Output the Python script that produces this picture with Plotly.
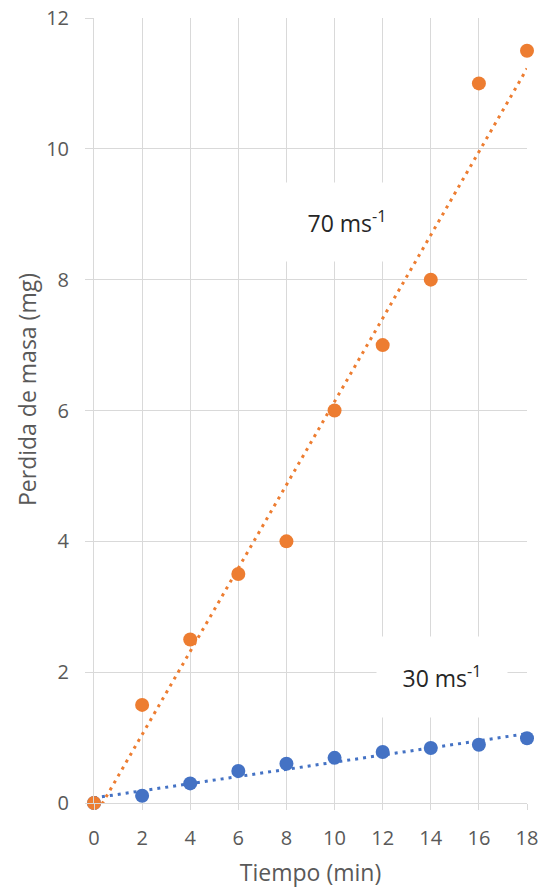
import numpy as np
import plotly.graph_objects as go

tiempo = [0, 2, 4, 6, 8, 10, 12, 14, 16, 18]
perdida_70 = [0, 1.5, 2.5, 3.5, 4.0, 6.0, 7.0, 8.0, 11.0, 11.5]
perdida_30 = [0, 0.11, 0.30, 0.49, 0.60, 0.69, 0.78, 0.84, 0.89, 0.99]
x_ticks = [0, 2, 4, 6, 8, 10, 12, 14, 16, 18]
y_ticks = [0, 2, 4, 6, 8, 10, 12]

ORANGE = "#ED7D31"
BLUE = "#4472C4"
GRID = "#d9d9d9"
TXT = "#595959"
FONT = "Open Sans"

def trend(x, y):
    x = np.asarray(x, float); y = np.asarray(y, float)
    m, b = np.polyfit(x, y, 1)
    xs = np.array([x.min(), x.max()])
    return xs, m * xs + b

fig = go.Figure()
for ys, col in [(perdida_70, ORANGE), (perdida_30, BLUE)]:
    tx, ty = trend(tiempo, ys)
    fig.add_trace(go.Scatter(x=tx, y=ty, mode="lines",
                             line=dict(color=col, width=3, dash="3px,5px"),
                             showlegend=False, hoverinfo="skip"))
for ys, col in [(perdida_30, BLUE), (perdida_70, ORANGE)]:
    fig.add_trace(go.Scatter(x=tiempo, y=ys, mode="markers",
                             marker=dict(color=col, size=14),
                             cliponaxis=False, showlegend=False))

fig.add_annotation(x=10.5, y=8.88, xref="x", yref="y", text="70 ms<sup>-1</sup>",
                   showarrow=False, bgcolor="white", width=130, height=78,
                   borderpad=0, font=dict(family=FONT, size=23, color="#262626"))
fig.add_annotation(x=14.46, y=1.93, xref="x", yref="y", text="30 ms<sup>-1</sup>",
                   showarrow=False, bgcolor="white", width=130, height=80,
                   borderpad=0, font=dict(family=FONT, size=23, color="#262626"))
# y axis title
fig.add_annotation(x=(27 - 94) / 433, y=(803 - 390) / 785, xref="paper", yref="paper",
                   xanchor="center", yanchor="middle",
                   text="Perdida de masa (mg)", textangle=-90, showarrow=False,
                   font=dict(family=FONT, size=23, color=TXT))

fig.update_layout(
    width=541, height=888,
    margin=dict(l=94, r=14, t=18, b=85),
    paper_bgcolor="white", plot_bgcolor="white",
    font=dict(family=FONT, color=TXT, size=17),
)
fig.update_xaxes(range=[0, 18], tickvals=x_ticks, showgrid=True, gridcolor=GRID,
                 gridwidth=1, zeroline=False, showline=True, linecolor=GRID, linewidth=1,
                 ticks="outside", ticklen=6, tickcolor=GRID, automargin=False,
                 tickfont=dict(size=20, color=TXT), ticklabelstandoff=11,
                 title=dict(text="Tiempo (min)", font=dict(size=23, color=TXT), standoff=18))
fig.update_yaxes(range=[0, 12], tickvals=y_ticks, showgrid=True, gridcolor=GRID,
                 gridwidth=1, zeroline=False, showline=True, linecolor=GRID, linewidth=1,
                 ticks="outside", ticklen=8, tickcolor=GRID, ticklabelstandoff=12,
                 automargin=False, tickfont=dict(size=20, color=TXT))

fig.write_html("out.html")
